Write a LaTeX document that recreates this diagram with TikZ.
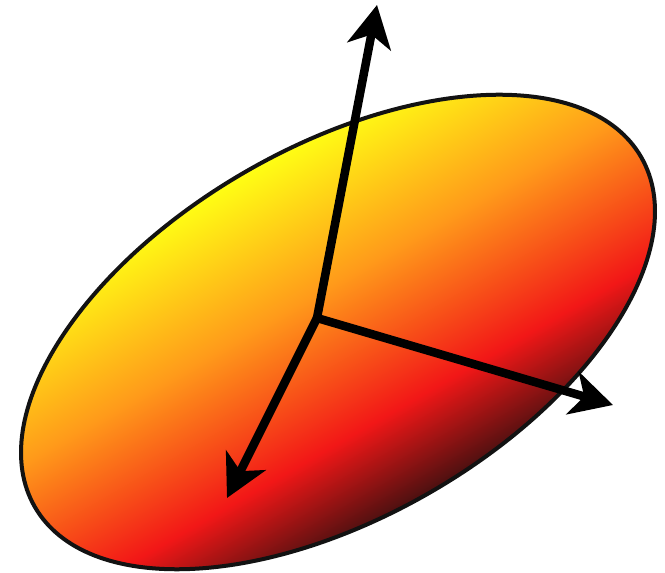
\documentclass[tikz,border=0pt]{standalone}
\usepackage{tikz}
\usetikzlibrary{arrows.meta}
\definecolor{ell-yellow}{HTML}{FFFF14}
\definecolor{ell-orange}{HTML}{FF9A1A}
\definecolor{ell-red}{HTML}{F21717}
\definecolor{ell-dark}{HTML}{4A1010}
\pgfdeclareverticalshading{ellshade}{100bp}{color(0bp)=(ell-dark); color(25bp)=(ell-dark);
  color(37bp)=(ell-red); color(56bp)=(ell-orange); color(75bp)=(ell-yellow); color(100bp)=(ell-yellow)}
\tikzset{
  axisarrow/.style={line width=8.5pt,-{Stealth[length=42pt,width=44pt,inset=12pt]},line cap=round},
  ellbody/.style={shading=ellshade,draw=black!93,line width=4pt}
}

\begin{document}
\begin{tikzpicture}[x=1pt,y=1pt]
  \useasboundingbox (0,0) rectangle (665,573);
  % body, rotated on the canvas so the shading turns with it
  \begin{scope}[transform canvas={shift={(338pt,241pt)},rotate=30}]
    \shade[ellbody] (0,0) ellipse [x radius=350pt,y radius=185pt];
  \end{scope}
  \coordinate (o) at (317,255);
  \coordinate (tip-up) at (377,568);
  \coordinate (tip-right) at (613,168);
  \coordinate (tip-down) at (227,75);
  \foreach \t in {tip-up,tip-right,tip-down}
    \draw[axisarrow] (o) -- (\t);
\end{tikzpicture}
\end{document}
